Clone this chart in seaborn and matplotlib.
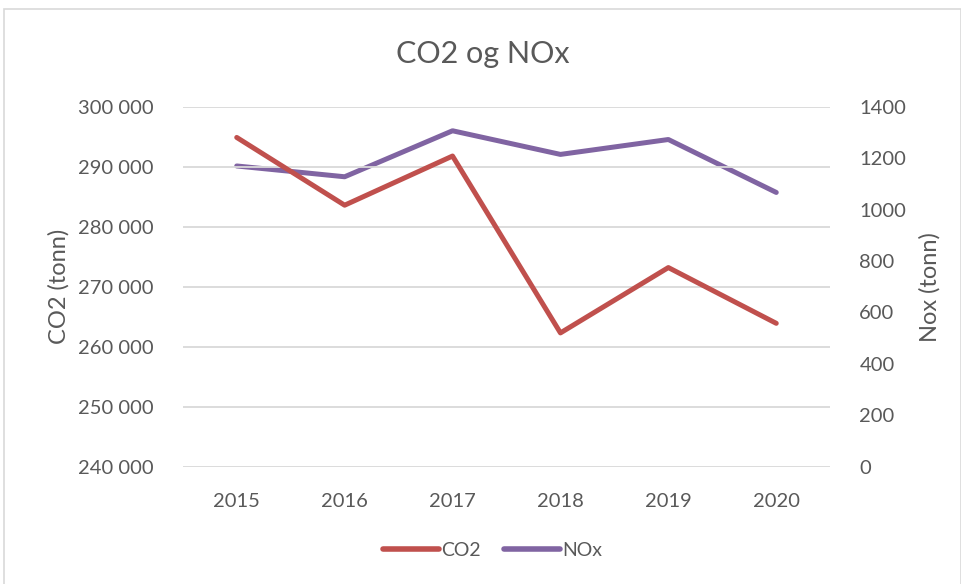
import matplotlib.pyplot as plt
import seaborn as sns
import pandas as pd
from matplotlib.ticker import FuncFormatter
from matplotlib.patches import Rectangle
from matplotlib.lines import Line2D

sns.set_style("white")
plt.rcParams['font.family'] = ['Lato', 'DejaVu Sans']

# data
years = ["2015", "2016", "2017", "2018", "2019", "2020"]
co2 = [294900, 283600, 291800, 262300, 273200, 263900]
nox = [1170, 1128, 1307, 1215, 1273, 1067]

df = pd.DataFrame({"year": years, "CO2": co2, "NOx": nox})

red = "#C0504D"
purple = "#8064A2"
text_col = "#595959"
grid_col = "#D9D9D9"

fig = plt.figure(figsize=(9.62, 5.84), dpi=100)
ax = fig.add_axes([0.190, 0.201, 0.673, 0.616])
ax2 = ax.twinx()

sns.lineplot(data=df, x="year", y="CO2", ax=ax, color=red, linewidth=3.6, sort=False)
sns.lineplot(data=df, x="year", y="NOx", ax=ax2, color=purple, linewidth=3.6, sort=False)
ax2.set_zorder(ax.get_zorder() - 1)
ax.patch.set_visible(False)
ax2.patch.set_visible(False)

ax.set_xlim(-0.5, len(years) - 0.5)
ax.set_ylim(240000, 300000)
ax.set_yticks(range(240000, 300001, 10000))
ax.yaxis.set_major_formatter(FuncFormatter(lambda v, p: f"{int(v):,}".replace(",", " ")))
ax2.set_ylim(0, 1400)
ax2.set_yticks(range(0, 1401, 200))

# gridlines only from the left axis
ax.yaxis.grid(True, color=grid_col, linewidth=1.3)
ax.xaxis.grid(False)
ax2.grid(False)
ax.set_axisbelow(True)
for a in (ax, ax2):
    for s in a.spines.values():
        s.set_visible(False)
    a.tick_params(length=0, labelsize=14.5, labelcolor=text_col)
ax.tick_params(axis="y", pad=21)
ax2.tick_params(axis="y", pad=21)
ax.tick_params(axis="x", pad=19)

ax.set_xlabel("")
ax.set_ylabel("CO2 (tonn)", fontsize=17, color=text_col, labelpad=6)
ax2.set_ylabel("Nox (tonn)", fontsize=17, color=text_col, labelpad=9)

fig.text(0.502, 0.908, "CO2 og NOx", ha="center", va="center", fontsize=22, color=text_col)

handles = [Line2D([], [], color=red, linewidth=4, solid_capstyle="round"),
           Line2D([], [], color=purple, linewidth=4, solid_capstyle="round")]
fig.legend(handles, ["CO2", "NOx"], loc="center", bbox_to_anchor=(0.512, 0.058),
           ncol=2, frameon=False, fontsize=14, handlelength=2.9,
           handletextpad=0.1, columnspacing=1.2, labelcolor=text_col)

# chart frame
fig.patches.append(Rectangle((4 / 962, -0.01), 957 / 962, 1 - 9 / 584 + 0.01,
                             transform=fig.transFigure, fill=False,
                             edgecolor="#D9D9D9", linewidth=1.2))

fig.savefig("out.png", dpi=100)
